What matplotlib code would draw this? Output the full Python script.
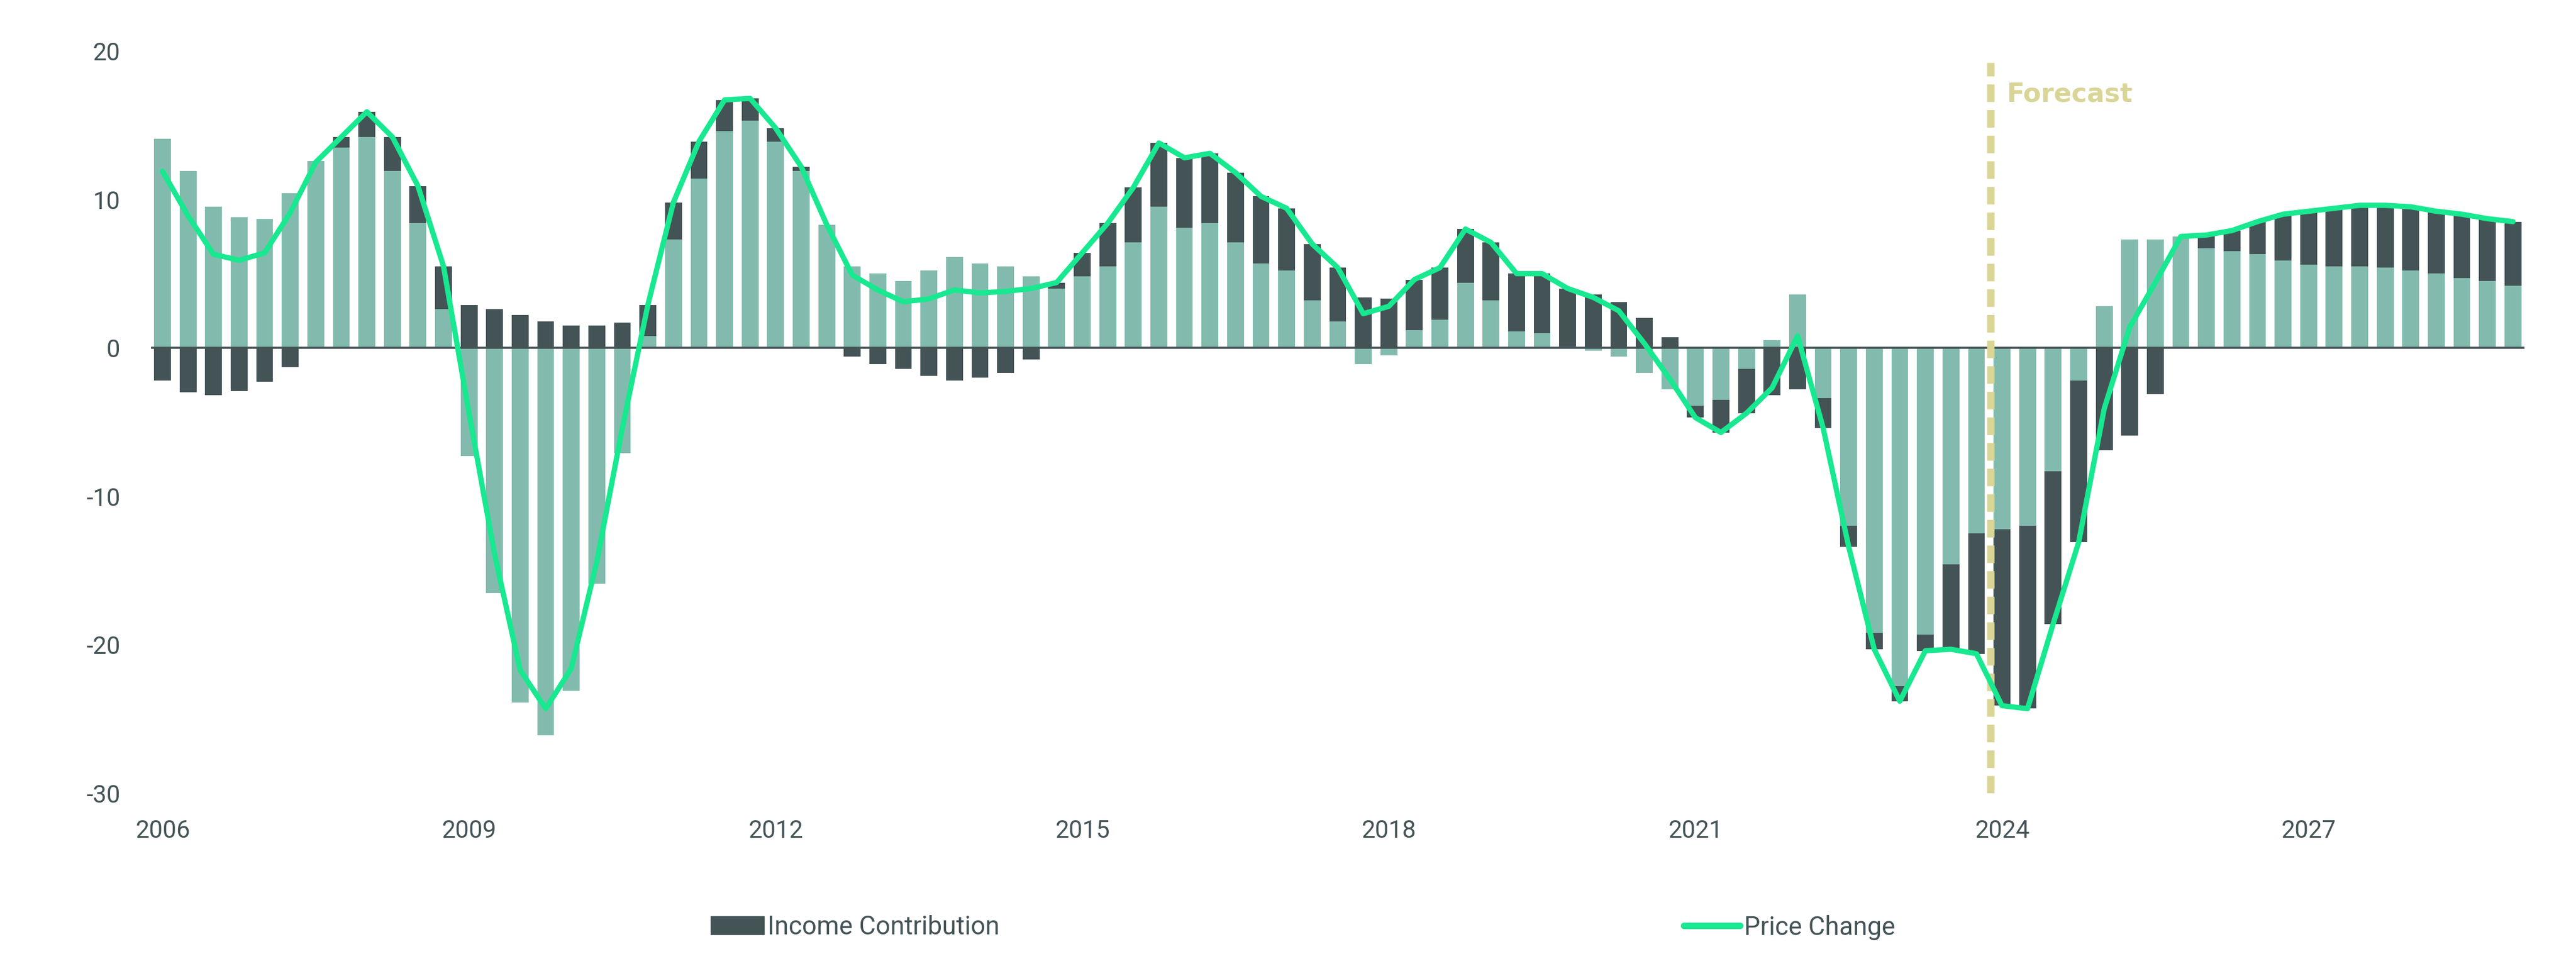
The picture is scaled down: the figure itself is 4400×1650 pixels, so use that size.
import numpy as np
import matplotlib
matplotlib.use("Agg")
import matplotlib.pyplot as plt
from matplotlib.patches import Patch
from matplotlib.lines import Line2D

plt.rcParams['font.family'] = ['Roboto', 'DejaVu Sans']
plt.rcParams['axes.unicode_minus'] = False

# quarterly, 2006 Q1 .. 2029 Q1
years = list(range(2006, 2030))
quarters = [f"{y} Q{q}" for y in years for q in range(1, 5)][:93]

# light teal component (stacked first)
capital = [
    14.1, 11.9, 9.5, 8.8, 8.7, 10.4, 12.6, 13.5, 14.2, 11.9, 8.4, 2.6,
    -7.3, -16.5, -23.9, -26.1, -23.1, -15.9, -7.1, 0.8, 7.3, 11.4, 14.6, 15.3,
    13.9, 11.9, 8.3, 5.5, 5.0, 4.5, 5.2, 6.1, 5.7, 5.5, 4.8, 4.0,
    4.8, 5.5, 7.1, 9.5, 8.1, 8.4, 7.1, 5.7, 5.2, 3.2, 1.8, -1.1,
    -0.5, 1.2, 1.9, 4.4, 3.2, 1.1, 1.0, 0.1, -0.2, -0.6, -1.7, -2.8,
    -3.9, -3.5, -1.4, 0.5, 3.6, -3.4, -12.0, -19.2, -22.8, -19.3, -14.6, -12.5,
    -12.2, -12.0, -8.3, -2.2, 2.8, 7.3, 7.3, 7.5, 6.7, 6.5, 6.3, 5.9,
    5.6, 5.5, 5.5, 5.4, 5.2, 5.0, 4.7, 4.5, 4.2,
]

income = [
    -2.2, -3.0, -3.2, -2.9, -2.3, -1.3, 0.0, 0.7, 1.7, 2.3, 2.5, 2.9,
    2.9, 2.6, 2.2, 1.8, 1.5, 1.5, 1.7, 2.1, 2.5, 2.5, 2.1, 1.5,
    0.9, 0.3, 0.0, -0.6, -1.1, -1.4, -1.9, -2.2, -2.0, -1.7, -0.8, 0.4,
    1.6, 2.9, 3.7, 4.3, 4.7, 4.7, 4.7, 4.5, 4.2, 3.8, 3.6, 3.4,
    3.3, 3.4, 3.5, 3.6, 3.9, 3.9, 4.0, 3.9, 3.6, 3.1, 2.0, 0.7,
    -0.8, -2.2, -3.0, -3.2, -2.8, -2.0, -1.4, -1.1, -1.0, -1.1, -5.7, -8.1,
    -11.9, -12.3, -10.3, -10.9, -6.9, -5.9, -3.1, 0.0, 0.9, 1.4, 2.2, 3.1,
    3.6, 3.9, 4.1, 4.2, 4.3, 4.2, 4.3, 4.2, 4.3,
]

price = [
    11.9, 8.9, 6.3, 5.9, 6.4, 9.1, 12.5, 14.2, 15.9, 14.2, 10.9, 5.5,
    -4.4, -13.9, -21.7, -24.3, -21.6, -14.4, -5.4, 2.9, 9.8, 13.9, 16.7, 16.8,
    14.8, 12.2, 8.3, 4.9, 3.9, 3.1, 3.3, 3.9, 3.7, 3.8, 4.0, 4.4,
    6.4, 8.4, 10.8, 13.8, 12.8, 13.1, 11.8, 10.2, 9.4, 7.0, 5.4, 2.3,
    2.8, 4.6, 5.4, 8.0, 7.1, 5.0, 5.0, 4.0, 3.4, 2.5, 0.3, -2.1,
    -4.7, -5.7, -4.4, -2.7, 0.8, -5.4, -13.4, -20.3, -23.8, -20.4, -20.3, -20.6,
    -24.1, -24.3, -18.6, -13.1, -4.1, 1.4, 4.4, 7.5, 7.6, 7.9, 8.5, 9.0,
    9.2, 9.4, 9.6, 9.6, 9.5, 9.2, 9.0, 8.7, 8.5,
]

tick_years = [2006, 2009, 2012, 2015, 2018, 2021, 2024, 2027]
forecast_start = "2024 Q1"

LIGHT = '#82BBAD'
DARK = '#445356'
GREEN = '#18E890'
KHAKI = '#D9D596'

x = np.arange(len(quarters))
cap = np.array(capital)
inc = np.array(income)
# relative stacking: same sign stacks on the light bar, opposite sign starts at 0
inc_bottom = np.where(np.sign(inc) == np.sign(cap), cap, 0)

fig = plt.figure(figsize=(44, 16.5), dpi=100)
ax = fig.add_axes([0.0586, 0.1788, 0.9214, 0.7685])

ax.bar(x, cap, width=0.66, color=LIGHT, zorder=2)
ax.bar(x, inc, width=0.66, bottom=inc_bottom, color=DARK, zorder=2)
ax.axhline(0, color=DARK, lw=2.6, zorder=3)

fx = quarters.index(forecast_start) - 0.45
ax.plot([fx, fx], [-30, 19.2], color=KHAKI, lw=9, linestyle=(0, (2.4, 1.1)),
        zorder=4)
ax.text(fx + 0.65, 17.1, 'Forecast', color=KHAKI, fontsize=32,
        fontweight='bold', family=['DejaVu Sans'], va='center', ha='left')

ax.plot(x, price, color=GREEN, lw=6.5, zorder=5,
        solid_joinstyle='round', solid_capstyle='round')

ax.set_xlim(-0.45, len(quarters) - 0.55)
ax.set_ylim(-30, 20)
ax.set_yticks([-30, -20, -10, 0, 10, 20])
ax.set_xticks([quarters.index(f"{y} Q1") for y in tick_years])
ax.set_xticklabels([str(y) for y in tick_years])
ax.tick_params(axis='y', length=0, pad=38, labelsize=30, labelcolor=DARK)
ax.tick_params(axis='x', length=0, pad=32, labelsize=30, labelcolor=DARK)
for s in ax.spines.values():
    s.set_visible(False)

leg1 = fig.legend(handles=[Patch(color=DARK, label='Income Contribution')],
                  loc='center left', bbox_to_anchor=(0.276, 0.0400),
                  frameon=False, fontsize=31.5, borderpad=0, borderaxespad=0,
                  handlelength=2.06, handleheight=0.7, handletextpad=0.15,
                  labelcolor=DARK)
leg2 = fig.legend(handles=[Line2D([0], [0], color=GREEN, lw=8,
                                  solid_capstyle='round', label='Price Change')],
                  loc='center left', bbox_to_anchor=(0.6536, 0.0400),
                  frameon=False, fontsize=31.5, borderpad=0, borderaxespad=0,
                  handlelength=2.2, handletextpad=0.15, labelcolor=DARK)

fig.savefig('out.png', dpi=100)
